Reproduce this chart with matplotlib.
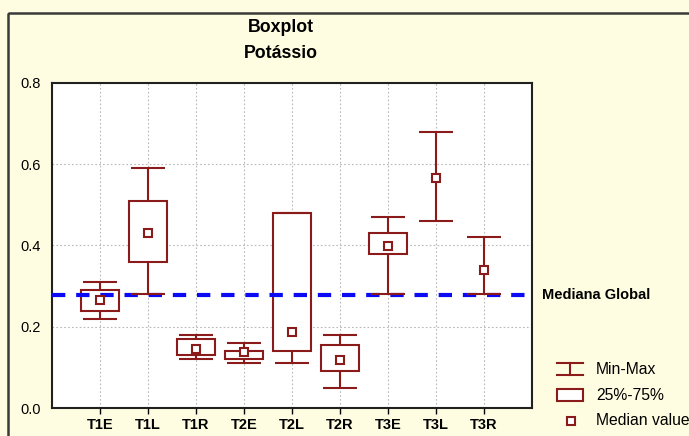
import matplotlib
matplotlib.use('Agg')
import matplotlib.pyplot as plt
import numpy as np
from matplotlib.patches import Rectangle
from matplotlib.lines import Line2D
import matplotlib.transforms as mtransforms

plt.rcParams['font.family'] = ['Liberation Sans', 'DejaVu Sans']

# values
categories = ['T1E', 'T1L', 'T1R', 'T2E', 'T2L', 'T2R', 'T3E', 'T3L', 'T3R']
vmin = [0.22, 0.28, 0.12, 0.11, 0.11, 0.05, 0.28, 0.46, 0.28]
q1 = [0.24, 0.36, 0.13, 0.12, 0.14, 0.09, 0.38, np.nan, np.nan]
median = [0.266, 0.43, 0.145, 0.138, 0.187, 0.118, 0.399, 0.567, 0.339]
q3 = [0.29, 0.51, 0.17, 0.14, 0.48, 0.156, 0.43, np.nan, np.nan]
vmax = [0.31, 0.59, 0.18, 0.16, 0.48, 0.18, 0.47, 0.68, 0.42]
global_median = 0.278

red = '#8B1A1A'
blue = '#0A0AF5'
bg = '#FFFDE1'

fig = plt.figure(figsize=(6.89, 4.36), dpi=100, facecolor=bg)
ax = fig.add_axes([52/689, 1-408/436, 480/689, 325/436])
ax.set_facecolor('white')

x = np.arange(1, len(categories)+1)
q1a = np.array(q1)
q3a = np.array(q3)

# whiskers (drawn under the boxes)
ax.vlines(x, vmin, vmax, color=red, lw=1.5, zorder=3)
# boxes
ax.bar(x, q3a - q1a, bottom=q1a, width=0.8, facecolor='white', edgecolor=red, lw=1.5, zorder=4)
# global median line
ax.axhline(global_median, color=blue, lw=3, dashes=(3.2, 2.6), zorder=5)
# caps
ax.hlines(vmin, x-0.35, x+0.35, color=red, lw=1.5, zorder=6)
ax.hlines(vmax, x-0.35, x+0.35, color=red, lw=1.5, zorder=6)
# medians
ax.plot(x, median, 's', ms=6, mfc='white', mec=red, mew=1.5, ls='none', zorder=7)

ax.set_xlim(0, len(categories)+1)
ax.set_ylim(0, 0.8)
ax.set_xticks(x)
ax.set_xticklabels(categories, fontsize=10.5, fontweight='bold')
ax.set_yticks([0.0, 0.2, 0.4, 0.6, 0.8])
ax.set_yticklabels(['0.0', '0.2', '0.4', '0.6', '0.8'], fontsize=10.5)
ax.tick_params(axis='y', length=0, pad=8)
ax.tick_params(axis='x', length=4, width=1, pad=3)
ax.grid(True, color='#b8b8b8', ls=(0, (1.5, 2)), lw=0.8)
ax.set_axisbelow(True)
for s in ax.spines.values():
    s.set_linewidth(1.5)
    s.set_color('#202020')

trans = mtransforms.blended_transform_factory(ax.transAxes, ax.transData)
ax.text(1.021, global_median, 'Mediana Global', transform=trans, fontsize=10.5,
        fontweight='bold', va='center', ha='left', clip_on=False)

fig.text(281/689, 1-27/436, 'Boxplot', ha='center', va='center', fontsize=12.8, fontweight='bold')
fig.text(281/689, 1-53/436, 'Potássio', ha='center', va='center', fontsize=12.8, fontweight='bold')

# overlay in pixel coordinates for the frame and the legend
lax = fig.add_axes([0, 0, 1, 1], facecolor='none')
lax.set_xlim(0, 689)
lax.set_ylim(436, 0)
lax.axis('off')
lax.add_patch(Rectangle((8, 13), 700, 450, fill=False, edgecolor='#3a3a3a', lw=1.8, clip_on=False))

# legend
lax.add_line(Line2D([557, 583], [363, 363], color=red, lw=1.5))
lax.add_line(Line2D([557, 583], [375, 375], color=red, lw=1.5))
lax.add_line(Line2D([570, 570], [363, 375], color=red, lw=1.5))
lax.text(596, 369, 'Min-Max', fontsize=11.3, va='center')
lax.add_patch(Rectangle((557, 389), 26, 12, facecolor='white', edgecolor=red, lw=1.5))
lax.text(596, 395, '25%-75%', fontsize=11.3, va='center')
lax.plot([571], [421], 's', ms=6, mfc='white', mec=red, mew=1.5)
lax.text(596, 420, 'Median value', fontsize=11.3, va='center')

plt.savefig('out.png', dpi=100, facecolor=bg)
plt.close()
